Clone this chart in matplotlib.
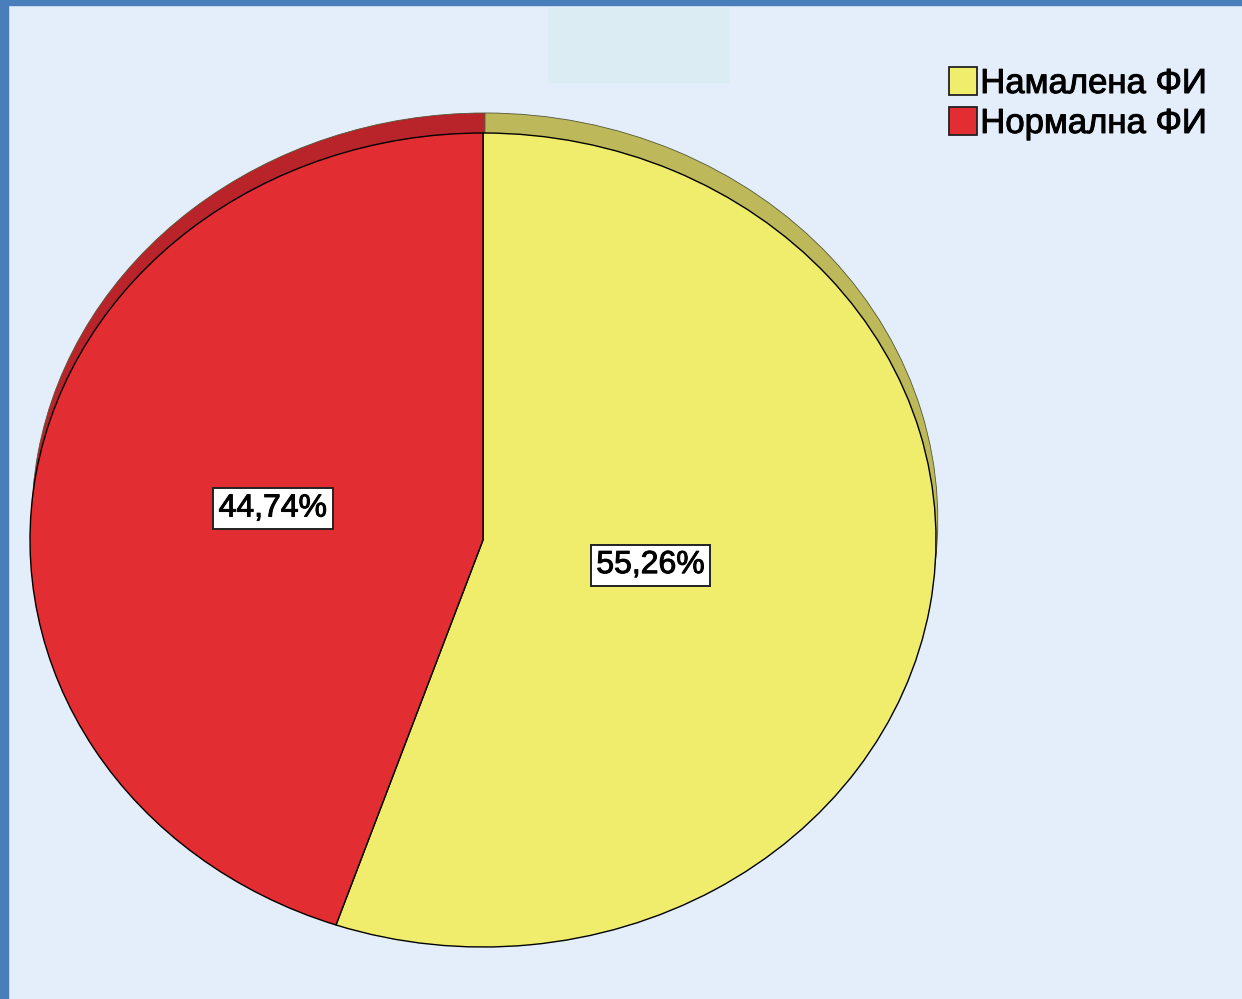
import numpy as np
import matplotlib
matplotlib.use("Agg")
from matplotlib import pyplot as plt
from matplotlib.patches import Rectangle, Patch
import matplotlib.patheffects as pe

# Data
labels = ["Намалена ФИ", "Нормална ФИ"]
values = [55.26, 44.74]
pct_text = ["55,26%", "44,74%"]
face_colors = ["#F0EC6C", "#E22D33"]
side_colors = ["#BDB95A", "#B8242A"]

plt.rcParams['font.family'] = ['Liberation Sans', 'DejaVu Sans']

W, H = 1242, 999
fig = plt.figure(figsize=(W / 100, H / 100), dpi=100)
fig.patch.set_facecolor("#E3EEFA")

# frame pieces (blue border on top and left, pale box at top)
fig.patches.append(Rectangle((0, 0), 8 / W, 1, transform=fig.transFigure,
                             color="#4A7EBB", zorder=0))
fig.patches.append(Rectangle((0, 1 - 5 / H), 1, 5 / H, transform=fig.transFigure,
                             color="#4A7EBB", zorder=0))
fig.patches.append(Rectangle((548 / W, 1 - 82 / H), 180 / W, 74 / H,
                             transform=fig.transFigure, color="#DBEDF3", zorder=0))

# pie axes: whole figure, scaled so a unit circle becomes the ellipse
cx, cy, rx, ry = 483, 540, 453, 407
ax = fig.add_axes([0, 0, 1, 1])
ax.patch.set_alpha(0)

# shadow / depth layer
ax.pie(values, colors=side_colors, startangle=90, counterclock=False,
       center=(0.004, 20 / ry), radius=1.0,
       wedgeprops=dict(edgecolor="#555533", linewidth=0.6))
# top face
wedges, _ = ax.pie(values, colors=face_colors, startangle=90, counterclock=False,
                   radius=1.0, wedgeprops=dict(edgecolor="black", linewidth=1.0))

ax.set_aspect("auto")
ax.set_xlim(-cx / rx, (W - cx) / rx)
ax.set_ylim((cy - H) / ry, cy / ry)
ax.axis("off")

thick = [pe.withStroke(linewidth=0.7, foreground="black")]

# percentage labels in white boxes
dists = [0.375, 0.47]
for w, txt, d in zip(wedges, pct_text, dists):
    ang = np.deg2rad((w.theta1 + w.theta2) / 2)
    ax.text(d * np.cos(ang), d * np.sin(ang), txt, ha="center", va="center",
            fontsize=23, path_effects=thick,
            bbox=dict(boxstyle="square,pad=0.17", facecolor="white",
                      edgecolor="#222222", linewidth=1.4))

handles = [Patch(facecolor=c, edgecolor="#222222", linewidth=1.3) for c in face_colors]
leg = fig.legend(handles, labels, loc="upper left", bbox_to_anchor=(949 / W, 1 - 67 / H),
                 frameon=False, fontsize=25, handlelength=0.8, handleheight=0.85,
                 handletextpad=0.1, labelspacing=0.2, borderpad=0, borderaxespad=0)
for t in leg.get_texts():
    t.set_path_effects(thick)

fig.savefig("out.png", dpi=100, facecolor=fig.get_facecolor())
